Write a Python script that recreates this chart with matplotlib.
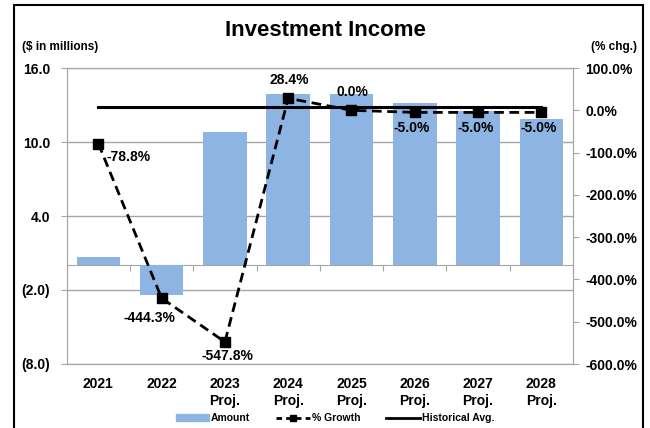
import matplotlib
matplotlib.use("Agg")
import matplotlib.pyplot as plt
from matplotlib.patches import Rectangle, Patch
from matplotlib.lines import Line2D
import numpy as np

plt.rcParams['font.family'] = ['Liberation Sans', 'DejaVu Sans']

# data
years = ["2021", "2022", "2023\nProj.", "2024\nProj.", "2025\nProj.",
         "2026\nProj.", "2027\nProj.", "2028\nProj."]
amount = [0.70, -2.41, 10.80, 13.87, 13.87, 13.18, 12.52, 11.89]
growth = [-78.8, -444.3, -547.8, 28.4, 0.0, -5.0, -5.0, -5.0]
growth_labels = ["-78.8%", "-444.3%", "-547.8%", "28.4%", "0.0%", "-5.0%", "-5.0%", "-5.0%"]
hist_avg = 8.8
left_ticks = [16, 10, 4, -2, -8]
left_labels = ["16.0", "10.0", "4.0", "(2.0)", "(8.0)"]
right_ticks = [100, 0, -100, -200, -300, -400, -500, -600]

# label offsets in points (dx, dy, ha)
offsets = [(6, -10, 'left'), (-9, -14, 'center'), (2, -10, 'center'),
           (1, 13, 'center'), (1, 13, 'center'), (-2, -11, 'center'),
           (-2, -11, 'center'), (-2, -11, 'center')]

W, H = 650, 428
fig = plt.figure(figsize=(W / 100, H / 100), dpi=100)
ax = fig.add_axes([66.7 / W, 1 - 364 / H, (573 - 66.7) / W, (364 - 68) / H])
ax2 = ax.twinx()

grid_c = '#A6A6A6'
x = np.arange(len(years))

ax.bar(x, amount, width=0.69, color='#8DB4E2', zorder=2)
ax.set_xlim(-0.5, len(years) - 0.5)
ax.set_ylim(-8, 16)
ax.set_yticks(left_ticks)
ax.set_yticklabels(left_labels, fontsize=10, fontweight='bold')
ax.yaxis.grid(True, color=grid_c, lw=1, zorder=0)
ax.set_axisbelow(True)
ax.tick_params(axis='y', length=4, color=grid_c, pad=8)
ax.set_xticks(x)
ax.set_xticklabels(years, fontsize=10, fontweight='bold', linespacing=1.3, va='top')
ax.tick_params(axis='x', length=0, pad=9)
for s in ax.spines.values():
    s.set_color(grid_c)

# category axis at zero with tick marks between categories
sec = ax.secondary_xaxis(8 / 24)
sec.set_xticks(x[:-1] + 0.5)
sec.set_xticklabels([])
sec.tick_params(axis='x', direction='out', length=4, color=grid_c)
sec.spines['bottom'].set_color(grid_c)

ax2.set_ylim(-600, 100)
ax2.set_yticks(right_ticks)
ax2.set_yticklabels([f"{t:.1f}%" for t in right_ticks], fontsize=10, fontweight='bold')
ax2.tick_params(axis='y', length=4, color=grid_c, pad=5)
for s in ax2.spines.values():
    s.set_color(grid_c)

ax2.plot([x[0], x[-1]], [hist_avg, hist_avg], color='black', lw=2.2, zorder=3)
ax2.plot(x, growth, color='black', ls=(0, (3.5, 2)), lw=2, marker='s',
         markersize=6.5, zorder=4)
for xi, g, lab, (dx, dy, ha) in zip(x, growth, growth_labels, offsets):
    ax2.annotate(lab, (xi, g), xytext=(dx, dy), textcoords='offset points',
                 ha=ha, va='center', fontsize=10, fontweight='bold', zorder=5)

fig.text(325 / W, 1 - 30 / H, "Investment Income", ha='center', va='center',
         fontsize=16, fontweight='bold')
fig.text(22 / W, 1 - 47 / H, "($ in millions)", ha='left', va='center',
         fontsize=8.5, fontweight='bold')
fig.text(637 / W, 1 - 47 / H, "(% chg.)", ha='right', va='center',
         fontsize=8.5, fontweight='bold')

handles = [Patch(color='#8DB4E2'),
           Line2D([], [], color='black', ls=(0, (2, 1.5)), lw=2, marker='s', markersize=5),
           Line2D([], [], color='black', lw=2)]
fig.legend(handles, ["Amount", "% Growth", "Historical Avg."], ncol=3,
           loc='center', bbox_to_anchor=(335 / W, 1 - 418 / H), frameon=False,
           prop={'size': 7.5, 'weight': 'bold'}, handlelength=3.2,
           handletextpad=0.2, columnspacing=2.5, handleheight=0.6)

fig.patches.append(Rectangle((14 / W, -0.05), (643 - 14) / W, 1.05 - 5 / H,
                             transform=fig.transFigure, fill=False,
                             edgecolor='black', lw=1.5))

fig.savefig("out.png", dpi=100)
